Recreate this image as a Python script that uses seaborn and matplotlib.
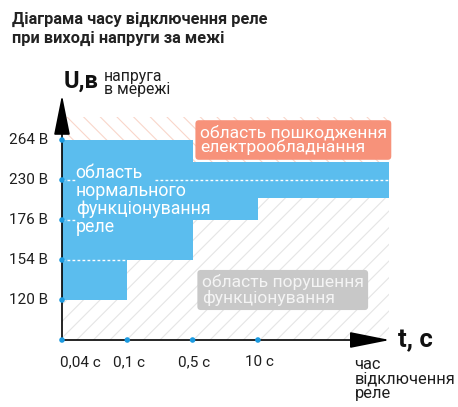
import matplotlib
matplotlib.use("Agg")
import matplotlib.pyplot as plt
from matplotlib.patches import Rectangle
import seaborn as sns
import pandas as pd

# ---- data ----
volt_labels = ["120 В", "154 В", "176 В", "230 В", "264 В"]
time_labels = ["0,04 с", "0,1 с", "0,5 с", "10 с"]
# stepped normal-operation band (in tick-index units), one value per time bin
bin_edges = [0, 1, 2, 3, 4, 5]
band_low = [1, 2, 3, 3.55, 3.55]
band_high = [5, 5, 4.45, 4.45, 4.45]

title = "Діаграма часу відключення реле\nпри виході напруги за межі"
normal_text = "область\nнормального\nфункціонування\nреле"
damage_text = "область пошкодження\nелектрообладнання"
fault_text = "область порушення\nфункціонування"

BLUE = "#5bbdee"
DOT = "#1b9ae0"
ORANGE = "#f7927a"
GRAY_BOX = "#c8c8c8"

sns.set_theme(style="white")
plt.rcParams["font.family"] = ["Roboto", "DejaVu Sans"]
plt.rcParams["hatch.linewidth"] = 0.8

W, H = 458, 407
fig = plt.figure(figsize=(W / 100, H / 100), dpi=100)
ax = fig.add_axes([0, 0, 1, 1])
x0px, y0px, sx, sy = 62, 340, 65.3, 40.0

xmax = bin_edges[-1]
# hatched regions
ax.add_patch(Rectangle((0, max(band_high[2:])), xmax, 5.575 - max(band_high[2:]),
                       fill=False, hatch="\\\\", edgecolor="#f9d6ca", lw=0, zorder=1))
ax.add_patch(Rectangle((0, 0), xmax, min(band_low[3:]),
                       fill=False, hatch="//", edgecolor="#e5e5e5", lw=0, zorder=1))

# blue stepped band
ax.fill_between(bin_edges, band_low + [band_low[-1]], band_high + [band_high[-1]],
                step="post", color=BLUE, lw=0, zorder=2)

# white dotted guide lines
dkw = dict(color="white", lw=1.0, ls=(0, (2, 1.6)), zorder=3)
ax.plot([0, 0.2], [4, 4], **dkw)
ax.plot([1.43, xmax], [4, 4], **dkw)
ax.plot([0, 0.2], [3, 3], **dkw)
ax.plot([0, 1], [2, 2], **dkw)

# axes with arrows
akw = dict(arrowstyle="-|>,head_length=2.5,head_width=0.5", mutation_scale=10,
           lw=1.2, color="black", shrinkA=0, shrinkB=0)
ax.annotate("", xy=(0, 6.125), xytext=(0, 0), arrowprops=akw, zorder=4)
ax.annotate("", xy=(5.02, 0), xytext=(0, 0), arrowprops=akw, zorder=4)

# tick dots
yt = list(range(1, len(volt_labels) + 1))
xt = list(range(len(time_labels)))
dots = pd.DataFrame({"x": [0] * len(yt) + xt, "y": yt + [0] * len(xt)})
sns.scatterplot(data=dots, x="x", y="y", ax=ax, color=DOT, s=16, edgecolor="none",
                zorder=5, legend=False)
ax.set_xlim(-x0px / sx, (W - x0px) / sx)
ax.set_ylim(-(H - y0px) / sy, y0px / sy)
ax.axis("off")

# tick labels
TXT = "#1e1e1e"
for yv, lab in zip(yt, volt_labels):
    ax.text(-0.21, yv, lab, ha="right", va="center", fontsize=11, color=TXT)
for xv, lab in zip(xt, time_labels):
    if xv == 0:
        ax.text(-0.03, -0.55, lab, ha="left", va="center", fontsize=11, color=TXT)
    else:
        ax.text(xv + 0.03, -0.55, lab, ha="center", va="center", fontsize=11, color=TXT)

# axis titles
ax.text(0.02, 6.17, "U,в", ha="left", va="bottom", fontsize=17, fontweight="bold", color="#111111")
ax.text(0.64, 6.43, "напруга\nв мережі", ha="left", va="center", fontsize=11.3,
        linespacing=0.8, color=TXT)
ax.text(5.15, 0.0, "t, c", ha="left", va="center", fontsize=18.5, fontweight="bold", color="#111111")
ax.text(4.48, -0.97, "час\nвідключення\nреле", ha="left", va="center", fontsize=11.8,
        linespacing=0.98, color=TXT)

# region labels
ax.text(0.21, 3.5, normal_text, ha="left", va="center", fontsize=12.8, color="white",
        linespacing=0.98, zorder=6)
ax.text(2.11, 5.0, damage_text, ha="left", va="center", fontsize=12.6, color="white",
        linespacing=0.95, zorder=6,
        bbox=dict(boxstyle="round,pad=0.25,rounding_size=0.2", fc=ORANGE, ec="none"))
ax.text(2.14, 1.25, fault_text, ha="left", va="center", fontsize=12.6, color="#f4f4f4",
        linespacing=0.95, zorder=6,
        bbox=dict(boxstyle="round,pad=0.25,rounding_size=0.2", fc=GRAY_BOX, ec="none"))

fig.text(12 / W, 1 - 12 / H, title, ha="left", va="top", fontsize=11.75, fontweight="bold",
         linespacing=1.3, color="#222222")

fig.savefig("out.png", dpi=100)
